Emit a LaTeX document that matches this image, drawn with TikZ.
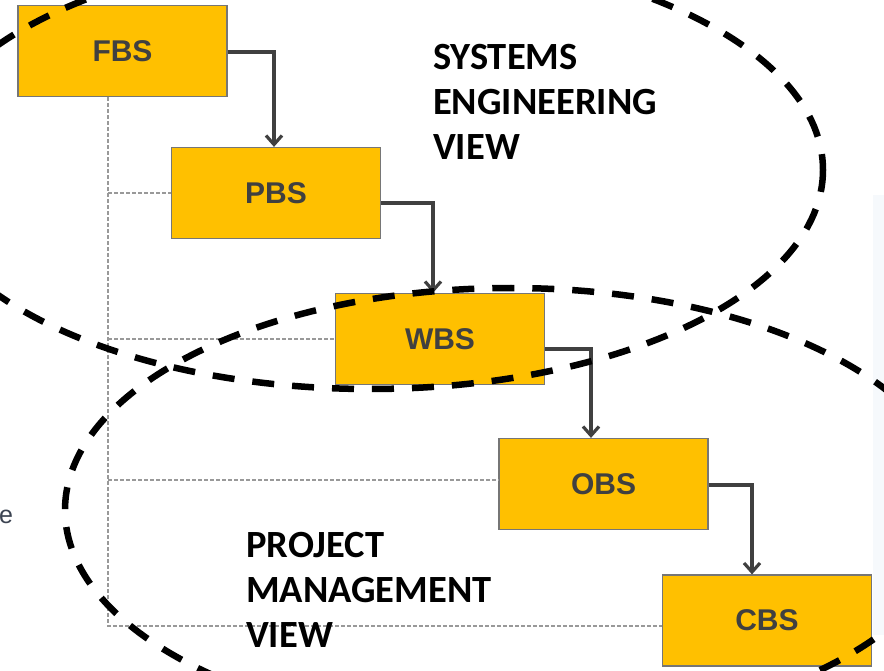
\documentclass[tikz,border=0pt]{standalone}
\usepackage{fontspec}
\setmainfont{Carlito}
\newfontfamily\boxfont{Liberation Sans}
\usetikzlibrary{arrows.meta}
\definecolor{boxfill}{HTML}{FFC000}
\definecolor{boxline}{HTML}{767676}
\definecolor{labelgray}{HTML}{404040}
\definecolor{dotgray}{HTML}{999999}
\definecolor{edgeblue}{HTML}{F6F9FC}
\definecolor{egray}{HTML}{3C4452}
\tikzset{
  bsbox/.style={draw=boxline, line width=1.2pt, fill=boxfill, minimum width=209pt, minimum height=91pt, inner sep=0pt,
    font=\boxfont\bfseries\fontsize{30}{36}\selectfont, text=labelgray},
  arr/.style={draw=labelgray, line width=3.4pt, -{Straight Barb[length=9pt,width=16pt,line width=3.2pt]}},
  dotline/.style={draw=dotgray, line width=1.5pt, dash pattern=on 3.5pt off 2.5pt},
  viewell/.style={draw=black, line width=6.5pt, dash pattern=on 22pt off 18pt},
  viewtext/.style={anchor=north west, align=left, inner sep=0pt, font=\bfseries\fontsize{38.5}{45}\selectfont}
}
\begin{document}
\begin{tikzpicture}[x=1pt,y=-1pt]
\useasboundingbox (0,0) rectangle (884,671);
\fill[edgeblue] (873,195) rectangle (884,635);
% boxes
\node[bsbox] (FBS) at (122.5,51) {FBS};
\node[bsbox] (PBS) at (276,193) {PBS};
\node[bsbox] (WBS) at (440,339) {WBS};
\node[bsbox] (OBS) at (603.5,484) {OBS};
\node[bsbox] (CBS) at (767,620.5) {CBS};
% dotted tree
\coordinate (trunk) at (108,626);
\draw[dotline] (FBS.south -| trunk) -- (trunk) -- ([yshift=-5.5pt]CBS.west);
\draw[dotline] (PBS.west -| trunk) -- (PBS.west);
\draw[dotline] (WBS.west -| trunk) -- (WBS.west);
\draw[dotline] ([yshift=4pt]OBS.west -| trunk) -- ([yshift=4pt]OBS.west);
% arrows
\draw[arr] ([yshift=-1pt]FBS.east) -| ([xshift=-2pt]PBS.north);
\draw[arr] ([yshift=-10pt]PBS.east) -| ([xshift=-7pt]WBS.north);
\draw[arr] ([yshift=-10pt]WBS.east) -| ([xshift=-12.5pt]OBS.north);
\draw[arr] ([yshift=-1pt]OBS.east) -| ([xshift=-15pt]CBS.north);
% view labels
\node[viewtext] (SE) at (433,44) {SYSTEMS\\ENGINEERING\\VIEW};
\node[viewtext] (PM) at (246,532) {PROJECT\\MANAGEMENT\\VIEW};
\node[anchor=base west, inner sep=0pt, text=egray, font=\boxfont\fontsize{25}{30}\selectfont] (cut) at (-1,523) {e};
% ellipses
\draw[viewell] (370,170) ellipse [x radius=453, y radius=219];
\draw[viewell] (511,510) ellipse [x radius=446, y radius=222];
\end{tikzpicture}
\end{document}
